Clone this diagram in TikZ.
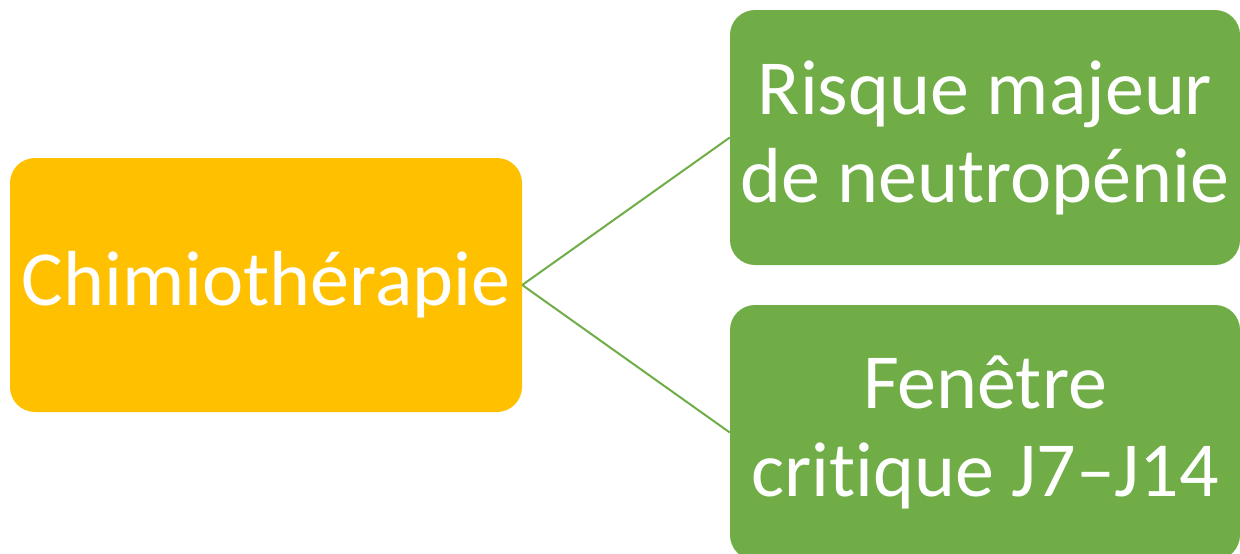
\documentclass[tikz,border=0pt]{standalone}
\usepackage{fontspec}
\setmainfont[Ligatures=NoCommon]{Carlito}
\definecolor{chemoorange}{HTML}{FFC000}
\definecolor{riskgreen}{HTML}{70AD47}

\begin{document}
\begin{tikzpicture}[x=1pt, y=-1pt,
    box/.style={rounded corners=25pt, text=white, align=center, inner sep=0pt,
        font=\fontsize{78}{88}\selectfont},
    link/.style={draw=riskgreen, line width=2pt}]
    \useasboundingbox (0, 0) rectangle (1240, 554);

    \node[box, fill=chemoorange, minimum width=512pt, minimum height=254pt] (chemo) at (266, 285) {Chimiothérapie};
    \node[box, fill=riskgreen, minimum width=510pt, minimum height=255pt] (risk) at (985, 137.5) {Risque majeur\\de neutropénie};
    \node[box, fill=riskgreen, minimum width=510pt, minimum height=255pt] (window) at (985, 432.5) {Fenêtre\\critique J7–J14};

    \draw[link] (chemo.east) -- (risk.west);
    \draw[link] (chemo.east) -- (window.west);

\end{tikzpicture}
\end{document}
